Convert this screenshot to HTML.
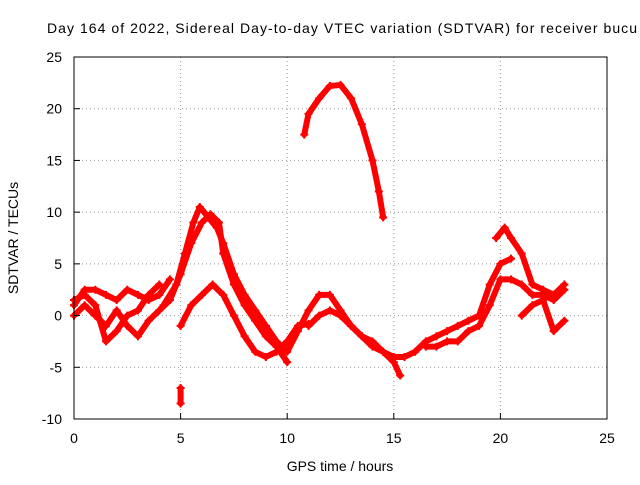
<!DOCTYPE html>
<html><head><meta charset="utf-8"><style>
body{margin:0;background:#fff;width:640px;height:480px;overflow:hidden}
text{font-family:"Liberation Sans",sans-serif;font-size:14px;fill:#000}
</style></head><body>
<svg id="chart" width="640" height="480" xmlns="http://www.w3.org/2000/svg">
<rect width="640" height="480" fill="#fff"/>
<text x="47" y="33" textLength="590" lengthAdjust="spacing">Day 164 of 2022, Sidereal Day-to-day VTEC variation (SDTVAR) for receiver bucu</text>
<g id="grid"></g><g id="series"></g>
<rect x="74" y="57" width="533" height="362" fill="none" stroke="#000" stroke-width="1"/>
<g id="ticks"></g>
<text x="340" y="471" text-anchor="middle">GPS time / hours</text>
<text transform="translate(18,238) rotate(-90)" text-anchor="middle">SDTVAR / TECUs</text>
</svg>
<script>
const xTicks=[0,5,10,15,20,25];
const yTicks=[-10,-5,0,5,10,15,20,25];
const trackArc=[[10.8,17.5],[11,19.5],[11.5,21],[12,22.2],[12.5,22.3],[13,21],[13.5,18.5],[14,15],[14.3,12],[14.5,9.5]];
const trackPeak1=[[4.2,1],[4.8,3],[5.2,6],[5.6,9],[5.9,10.5],[6.3,9.5],[6.7,8.5],[7,7],[7.5,4],[8,2],[8.5,0.5],[9,-1],[9.5,-2.5],[10,-3.5],[10.5,-1.5],[11,0.5],[11.5,2],[12,2],[12.5,0.5],[13,-1],[13.5,-2],[14,-2.5],[14.5,-3.5],[15,-4],[15.5,-4]];
const trackPeak2=[[4.5,1.5],[5,4],[5.5,7],[6,9],[6.4,9.8],[6.8,9],[7,6],[7.5,3],[8,1],[8.5,-0.5],[9,-2],[9.5,-3],[10,-4.5]];
const trackLow=[[5,-1],[5.5,1],[6,2],[6.5,3],[7,2],[7.5,0],[8,-2],[8.5,-3.5],[9,-4],[9.5,-3.5],[10,-2.5],[10.5,-1],[11,-0.8]];
const trackMid=[[11,-1],[11.5,0],[12,0.5],[12.5,0],[13,-1],[13.5,-2],[14,-3],[14.5,-3.5],[15,-4.5],[15.3,-5.8]];
const trackLeft1=[[0,1],[0.5,2.5],[1,2.5],[1.5,2],[2,1.5],[2.5,2.5],[3,2],[3.5,1.5],[4,2],[4.5,3.5]];
const trackLeft2=[[0,0],[0.5,1],[1,0],[1.5,-1],[2,0.5],[2.5,-1],[3,-2],[3.5,-0.5],[4,0.5],[4.5,1.5]];
const trackLeft3=[[0,1.5],[0.5,2],[1,1],[1.5,-2.5],[2,-1.5],[2.5,0],[3,0.5],[3.5,2],[4,3]];
const trackDrop=[[5,-7],[5,-8.5]];
const trackRight1=[[15.5,-4],[16,-3.5],[16.5,-2.5],[17,-2],[17.5,-1.5],[18,-1],[18.5,-0.5],[19,0],[19.5,3],[20,5],[20.5,5.5]];
const trackRight2=[[16.5,-3],[17,-3],[17.5,-2.5],[18,-2.5],[18.5,-1.5],[19,-1],[19.5,1],[20,3.5],[20.5,3.5],[21,3],[21.5,2],[22,2],[22.5,1.5],[23,2.5]];
const trackRight3=[[19.8,7.5],[20.2,8.5],[20.5,7.5],[21,6],[21.5,3],[22,2.5],[22.5,2],[23,3]];
const trackRight4=[[21,0],[21.5,1],[22,1.5],[22.5,-1.5],[23,-0.5]];
const tracks=[trackArc,trackPeak1,trackPeak2,trackLow,trackMid,trackLeft1,trackLeft2,trackLeft3,trackDrop,trackRight1,trackRight2,trackRight3,trackRight4];
const X0=74,X1=607,Y0=419,Y1=57;
const sx=v=>X0+(v-0)/(25-0)*(X1-X0);
const sy=v=>Y0-(v+10)/(35)*(Y0-Y1);
const NS="http://www.w3.org/2000/svg";
const grid=document.getElementById('grid'),ticks=document.getElementById('ticks'),ser=document.getElementById('series');
function mk(tag,at,parent){const e=document.createElementNS(NS,tag);for(const k in at)e.setAttribute(k,at[k]);parent.appendChild(e);return e;}
xTicks.forEach(t=>{const x=sx(t);
 if(t>0&&t<25){const g=mk('line',{x1:x,x2:x,y1:Y1,y2:Y0,stroke:'#999','stroke-dasharray':'1,3'},grid);
 
 }
 const tk=mk('line',{x1:x,x2:x,y1:Y0,y2:Y0-6,stroke:'#000'},ticks);
 
 
 const l=mk('text',{x:x,y:443,'text-anchor':'middle'},ticks);l.textContent=t;
 
 });
yTicks.forEach(t=>{const y=sy(t);
 if(t>-10&&t<25){const g=mk('line',{x1:X0,x2:X1,y1:y,y2:y,stroke:'#999','stroke-dasharray':'1,3'},grid);
 
 }
 const tk=mk('line',{x1:X0,x2:X0+6,y1:y,y2:y,stroke:'#000'},ticks);
 
 
 const l=mk('text',{x:62,y:y+5,'text-anchor':'end'},ticks);l.textContent=t;
 
 });
tracks.forEach((tr,i)=>{
 const p=mk('polyline',{points:tr.map(d=>sx(d[0])+','+sy(d[1])).join(' '),fill:'none',stroke:'#f00','stroke-width':6,'stroke-linejoin':'round','stroke-linecap':'round'},ser);
 
 
 tr.forEach(d=>{const x=sx(d[0]),y=sy(d[1]);
  const m=mk('path',{d:`M${x-4},${y}h8M${x},${y-4}v8`,stroke:'#f00','stroke-width':2},ser);
  
  });
});
</script>
</body></html>
